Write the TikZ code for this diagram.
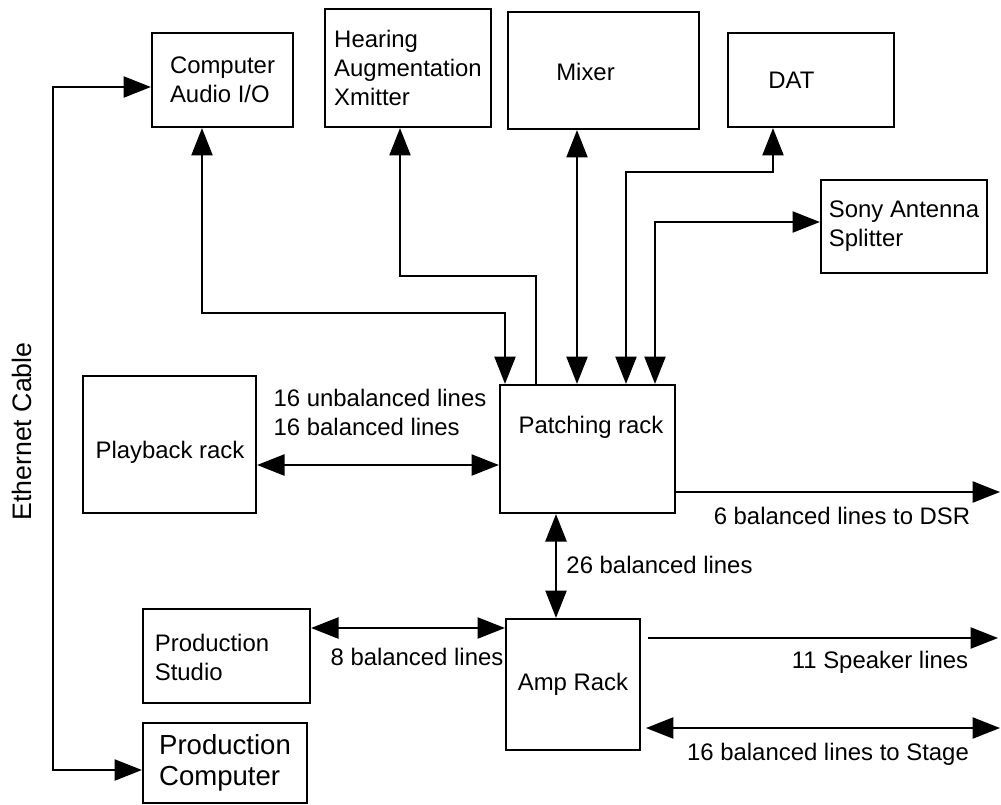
\documentclass[tikz,border=0pt]{standalone}
\usepackage{fontspec}
\setmainfont{Liberation Sans}
\usetikzlibrary{arrows.meta}

\tikzset{
  >={Triangle[length=19.5pt,width=15pt]},
  box/.style={shape=rectangle,draw=black,inner sep=0pt,align=left,
    font=\fontsize{17}{20.6}\selectfont},
  txt/.style={inner sep=0pt,align=left,font=\fontsize{17}{20.6}\selectfont},
}

\begin{document}
\begin{tikzpicture}[x=0.025cm,y=-0.025cm,line width=1.5pt]
            \useasboundingbox (0,0) rectangle (1001,804);

            % boxes
            \node[box,minimum width=3.525cm,minimum height=2.35cm] (cpu) at (222.5,80) {Computer\\Audio I/O};
            \node[box,minimum width=4.15cm,minimum height=2.95cm] (hear) at (408,68) {Hearing\\Augmentation\\Xmitter};
            \node[box,minimum width=4.775cm,minimum height=2.925cm] (mixer) at (603.5,70.5) {};
            \node[box,minimum width=4.15cm,minimum height=2.35cm] (dat) at (811,80) {};
            \node[box,minimum width=4.15cm,minimum height=2.325cm] (sony) at (904,226.5) {Sony Antenna\\Splitter};
            \node[box,minimum width=4.375cm,minimum height=3.2cm] (patch) at (587.5,449) {};
            \node[box,minimum width=4.325cm,minimum height=3.425cm] (play) at (169.5,444.5) {};
            \node[box,minimum width=4.175cm,minimum height=2.35cm] (studio) at (226.5,656) {};
            \node[box,minimum width=4.1cm,minimum height=2cm,font=\fontsize{19.6}{22.5}\selectfont] (compu) at (225,763) {Production\\Computer};
            \node[box,minimum width=3.35cm,minimum height=3.275cm] (amp) at (573,684.5) {Amp Rack};

            \node[txt] (mixertxt) at (585.5,72) {Mixer};
            \node[txt] (dattxt) at (791.5,80) {DAT};
            \node[txt] (patchtxt) at (591,427) {Patching rack};
            \node[txt] (playtxt) at (170,452) {Playback rack};
            \node[txt] (studiotxt) at (212,657.5) {Production\\Studio};

            % ethernet
            \node[txt,rotate=90,font=\fontsize{19}{22}\selectfont] (eth) at (22,431.5) {Ethernet Cable};
            \coordinate (ethtop) at (53,87);
            \coordinate (ethbot) at (53,770);
            \draw [->] (ethbot) -- (ethtop) -- (ethtop -| cpu.west);
            \draw [->] (ethtop) -- (ethbot) -- (ethbot -| compu.west);

            % patching rack links
            \draw [<->] (202,0 |- cpu.south) -- (202,313) -| (505,0 |- patch.north);
            \draw [->] (536,0 |- patch.north) |- (400,276) -- (400,0 |- hear.south);
            \path [<->] (577,0 |- mixer.south) edge (577,0 |- patch.north);
            \draw [<->] (773,0 |- dat.south) -- (773,172) -| (626,0 |- patch.north);
            \draw [<->] (sony.west |- 0,222) -| (655,0 |- patch.north);

            \path [<->] (play.east |- 0,465) edge (patch.west |- 0,465);
            \node[txt] (l16) at (380,412) {16 unbalanced lines\\16 balanced lines};

            \coordinate (dsr) at (1000,492);
            \draw [->] (patch.east |- 0,492) -- (dsr);
            \node[txt] (ldsr) at (842,516) {6 balanced lines to DSR};

            \path [<->] (556,0 |- patch.south) edge (556,0 |- amp.north);
            \node[txt] (l26) at (659.5,565) {26 balanced lines};

            % amp rack links
            \draw [<->] (studio.east |- 0,628) -- (amp.west |- 0,628);
            \node[txt] (l8) at (417,657) {8 balanced lines};

            \coordinate (spk) at (998,638);
            \draw [->,shorten <=5pt] (amp.east |- 0,638) -- (spk);
            \node[txt] (lspk) at (880,662) {11 Speaker lines};

            \coordinate (stage) at (1000,728);
            \draw [<->,shorten <=3.5pt] (amp.east |- 0,728) -- (stage);
            \node[txt] (lstage) at (828,754) {16 balanced lines to Stage};
        \end{tikzpicture}
\end{document}
